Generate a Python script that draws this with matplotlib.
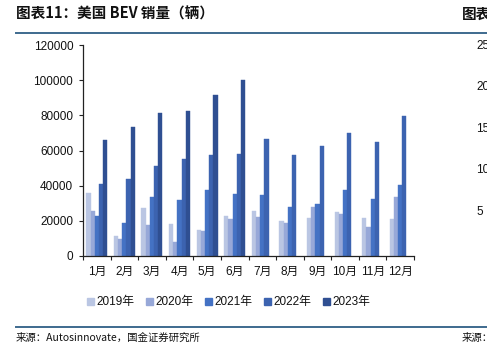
import numpy as np
import matplotlib
matplotlib.use("Agg")
import matplotlib.pyplot as plt
from matplotlib.patches import Rectangle
from matplotlib.lines import Line2D

plt.rcParams['font.family'] = ['Liberation Sans', 'Noto Sans CJK SC', 'DejaVu Sans']

months = ["1月", "2月", "3月", "4月", "5月", "6月", "7月", "8月", "9月", "10月", "11月", "12月"]
series_names = ["2019年", "2020年", "2021年", "2022年", "2023年"]
nan = np.nan
sales_2019 = [36100, 11200, 27200, 18200, 14600, 23000, 25800, 20100, 21500, 25100, 21500, 20900]
sales_2020 = [25800, 9900, 17500, 8000, 14000, 20900, 22400, 18800, 27700, 23700, 16700, 33400]
sales_2021 = [23000, 19000, 33400, 32100, 37400, 35300, 34600, 27700, 29800, 37400, 32700, 40300]
sales_2022 = [40800, 43700, 51300, 55400, 57300, 58100, 66500, 57300, 62800, 69700, 64900, 79400]
sales_2023 = [65900, 73300, 81600, 82400, 91300, 100100, nan, nan, nan, nan, nan, nan]
colors = ["#BAC6E3", "#97A8D8", "#4472C4", "#3C63B0", "#2F4F92"]

W, H = 487, 344
fig = plt.figure(figsize=(W / 100, H / 100), dpi=100)

def px(x0, y0, x1, y1):
    return [x0 / W, 1 - y1 / H, (x1 - x0) / W, (y1 - y0) / H]

ax = fig.add_axes(px(83, 45, 414, 256))
all_series = [sales_2019, sales_2020, sales_2021, sales_2022, sales_2023]
x = np.arange(len(months))
bw = 0.152
for i, (vals, c) in enumerate(zip(all_series, colors)):
    ax.bar(x + (i - 2) * bw, vals, width=bw, color=c, edgecolor=c, linewidth=0.3)

ax.set_xlim(-0.5, 11.5)
ax.set_ylim(0, 120000)
ax.set_yticks(np.arange(0, 120001, 20000))
ax.set_yticklabels([str(v) for v in range(0, 120001, 20000)], fontsize=8.5, color="#111111")
ax.set_xticks(x)
ax.set_xticklabels(months, fontsize=8.5, color="#111111")
ax.set_xticks(np.arange(-0.5, 12, 1), minor=True)
ax.tick_params(axis='x', which='major', length=0, pad=7)
ax.tick_params(axis='x', which='minor', length=3, direction='out', width=0.8, color="#222222")
ax.tick_params(axis='y', length=3, direction='out', width=0.8, color="#222222", pad=4)
for s in ("top", "right"):
    ax.spines[s].set_visible(False)
for s in ("left", "bottom"):
    ax.spines[s].set_color("#222222")
    ax.spines[s].set_linewidth(0.9)

# legend row
lx = [87, 146, 205, 264, 323]
for name, c, xx in zip(series_names, colors, lx):
    fig.patches.append(Rectangle((xx / W, 1 - 305 / H), 7 / W, 7 / H,
                                 transform=fig.transFigure, color=c))
    fig.text((xx + 9) / W, 1 - 301.5 / H, name, fontsize=8.5, va='center', ha='left',
             color="#111111")

# header and footer rules
rule_c = "#3E6A8E"
fig.lines.append(Line2D([16 / W, 1], [1 - 33 / H] * 2, transform=fig.transFigure,
                        color=rule_c, linewidth=1.4))
fig.lines.append(Line2D([16 / W, 1], [1 - 327 / H] * 2, transform=fig.transFigure,
                        color=rule_c, linewidth=1.4))

fig.text(16 / W, 1 - 14 / H, "图表11：美国 BEV 销量（辆）", fontsize=10.5, fontweight='bold',
         style='italic', family=['Noto Sans CJK SC'], va='center', ha='left', color="#111111")
fig.text(462 / W, 1 - 14 / H, "图表", fontsize=10.5, fontweight='bold',
         family=['Noto Sans CJK SC'], va='center', ha='left', color="#111111")
fig.text(16 / W, 1 - 338 / H, "来源：Autosinnovate，国金证券研究所", fontsize=7.5,
         family=['Noto Sans CJK SC'], va='center', ha='left', color="#111111")
fig.text(462 / W, 1 - 338 / H, "来源：", fontsize=7.5,
         family=['Noto Sans CJK SC'], va='center', ha='left', color="#111111")

# partial axis labels of the neighbouring panel
for lbl, yy in zip(["25", "20", "15", "10", "5"], [46, 87, 129, 170, 212]):
    fig.text(476 / W, 1 - yy / H, lbl, fontsize=8.5, va='center', ha='left', color="#111111")

fig.savefig("out.png", dpi=100)
